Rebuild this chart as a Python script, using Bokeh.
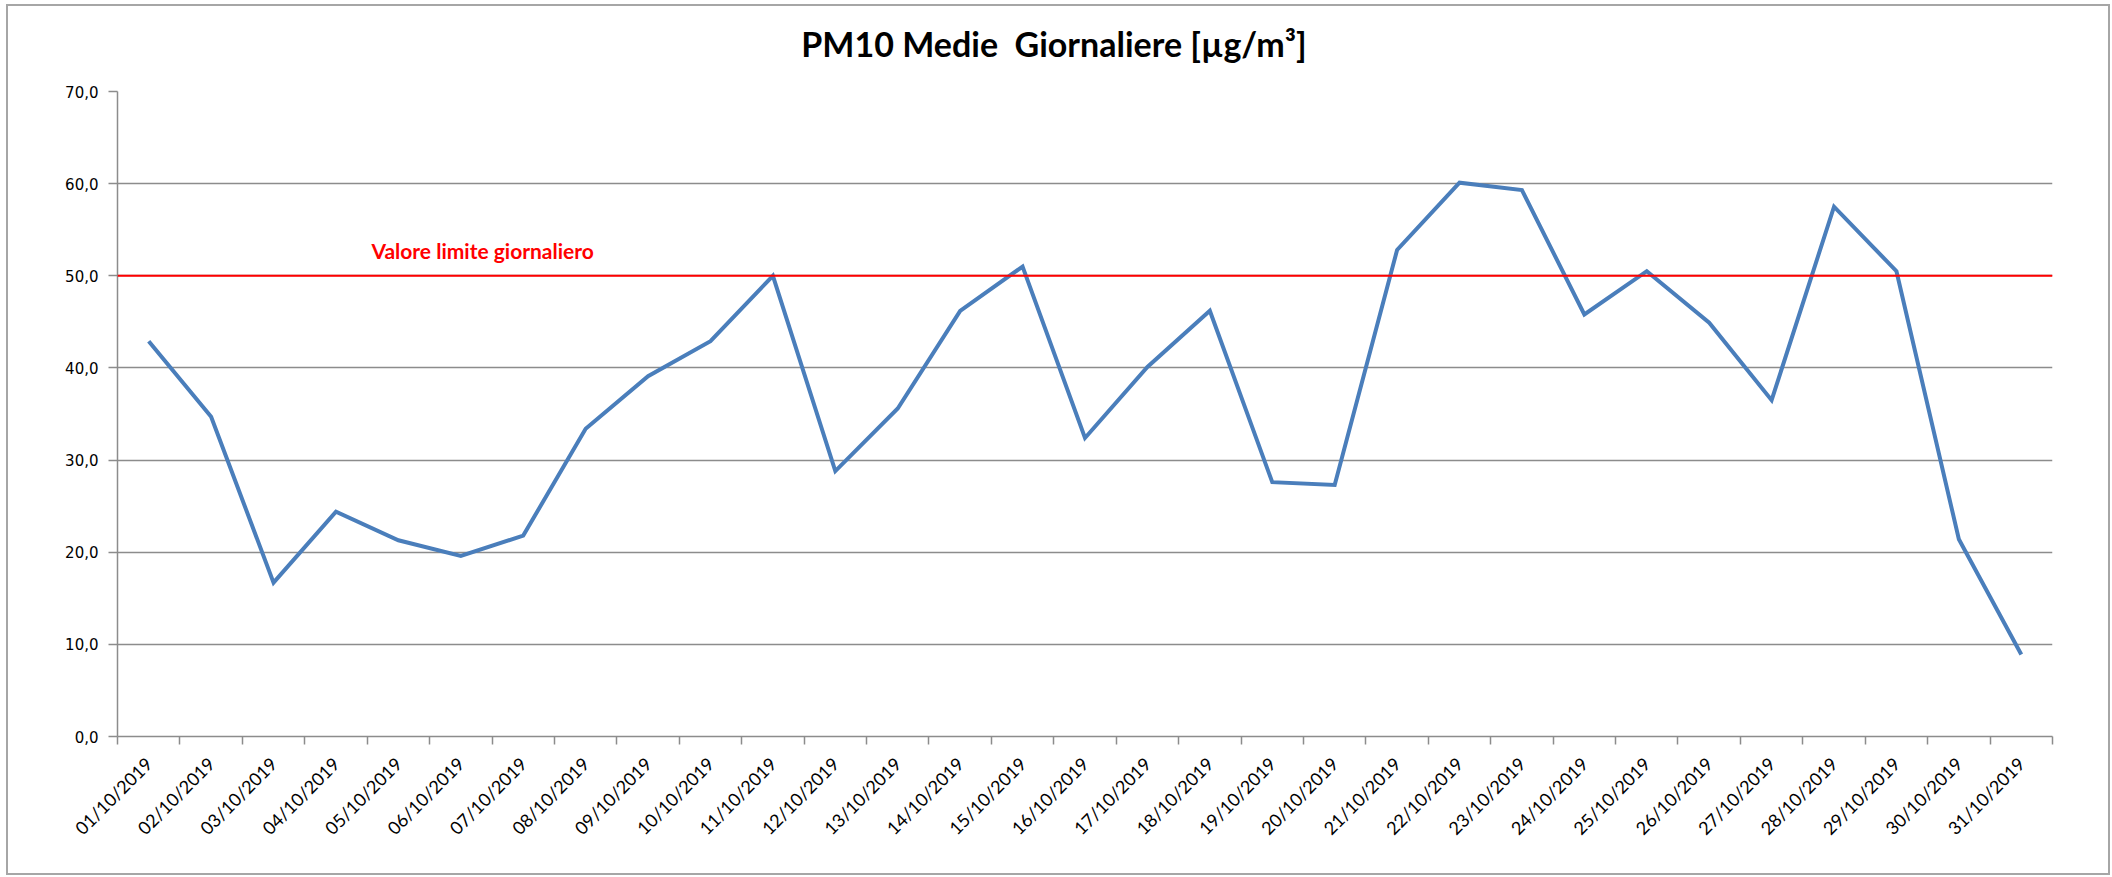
import math
from bokeh.plotting import figure
from bokeh.models import FixedTicker, Span, Label, Range1d, Div
from bokeh.layouts import column
from bokeh.embed import file_html
from bokeh.resources import INLINE

dates = ["01/10/2019", "02/10/2019", "03/10/2019", "04/10/2019", "05/10/2019",
         "06/10/2019", "07/10/2019", "08/10/2019", "09/10/2019", "10/10/2019",
         "11/10/2019", "12/10/2019", "13/10/2019", "14/10/2019", "15/10/2019",
         "16/10/2019", "17/10/2019", "18/10/2019", "19/10/2019", "20/10/2019",
         "21/10/2019", "22/10/2019", "23/10/2019", "24/10/2019", "25/10/2019",
         "26/10/2019", "27/10/2019", "28/10/2019", "29/10/2019", "30/10/2019",
         "31/10/2019"]
pm10 = [42.9, 34.7, 16.7, 24.4, 21.3, 19.6, 21.8, 33.4, 39.1, 42.9,
        50.0, 28.8, 35.6, 46.2, 51.0, 32.4, 40.1, 46.2, 27.6, 27.3,
        52.8, 60.1, 59.3, 45.8, 50.5, 44.9, 36.5, 57.5, 50.5, 21.4,
        8.9]
limit_value = 50.0
limit_label = "Valore limite giornaliero"
y_ticks = [0, 10, 20, 30, 40, 50, 60, 70]
y_tick_labels = ["0,0", "10,0", "20,0", "30,0", "40,0", "50,0", "60,0", "70,0"]
title_text = "PM10 Medie  Giornaliere [µg/m³]"

xs = list(range(1, len(dates) + 1))
n = len(dates)

title_div = Div(text=title_text, width=2100, height=60, margin=0,
                styles={"font-family": "Lato", "font-weight": "bold", "font-size": "34px",
                        "color": "#000000", "text-align": "center", "white-space": "pre",
                        "line-height": "40px", "padding-top": "18px",
                        "padding-right": "8px", "box-sizing": "border-box",
                        "background-color": "white"})

p = figure(width=2100, height=807, output_backend="svg", toolbar_location=None,
           frame_width=1935, frame_height=645,
           min_border_left=109, min_border_right=56, min_border_top=25, min_border_bottom=137,
           x_range=Range1d(0.5, n + 0.5), y_range=Range1d(y_ticks[0], y_ticks[-1]),
           margin=0)

p.outline_line_color = None
p.background_fill_color = "white"
p.border_fill_color = "white"

# grid
p.xgrid.grid_line_color = None
p.ygrid.grid_line_color = "#8c8c8c"
p.ygrid.grid_line_width = 1.5

# y axis
p.yaxis.ticker = FixedTicker(ticks=y_ticks, minor_ticks=[])
p.yaxis.major_label_overrides = {t: l for t, l in zip(y_ticks, y_tick_labels)}
p.yaxis.axis_line_color = "#8c8c8c"
p.yaxis.axis_line_width = 1.5
p.yaxis.major_tick_line_color = "#8c8c8c"
p.yaxis.major_tick_line_width = 1.5
p.yaxis.major_tick_out = 9
p.yaxis.major_tick_in = 0
p.yaxis.minor_tick_line_color = None
p.yaxis.major_label_text_font = "DejaVu Sans"
p.yaxis.major_label_text_font_size = "15px"
p.yaxis.major_label_text_color = "#000000"
p.yaxis.major_label_standoff = 10

# x axis
boundaries = [x - 0.5 for x in xs] + [xs[-1] + 0.5]
p.xaxis.ticker = FixedTicker(ticks=xs, minor_ticks=boundaries)
p.xaxis.major_label_overrides = {x: d for x, d in zip(xs, dates)}
p.xaxis.axis_line_color = "#8c8c8c"
p.xaxis.axis_line_width = 1.5
p.xaxis.major_tick_line_color = None
p.xaxis.major_tick_out = 0
p.xaxis.major_tick_in = 0
p.xaxis.minor_tick_line_color = "#8c8c8c"
p.xaxis.minor_tick_line_width = 1.5
p.xaxis.minor_tick_out = 8
p.xaxis.minor_tick_in = 0
p.xaxis.major_label_orientation = math.pi / 4
p.xaxis.major_label_text_font = "Lato"
p.xaxis.major_label_text_font_size = "18px"
p.xaxis.major_label_text_color = "#000000"
p.xaxis.major_label_standoff = 16

# limit line
p.add_layout(Span(location=limit_value, dimension="width", line_color="#ff0000", line_width=2))
p.add_layout(Label(x=6.35, y=52.7, text=limit_label, text_color="#ff0000",
                   text_font="Lato", text_font_style="bold", text_font_size="21px",
                   text_align="center", text_baseline="middle"))

# data line
p.line(xs, pm10, line_color="#4a7ebb", line_width=4, line_join="miter")

layout = column(title_div, p, spacing=0)
layout.styles = {"border": "2px solid #a6a6a6", "margin-left": "6px", "margin-top": "4px",
                 "background-color": "white"}

open("out.html", "w").write(file_html(layout, INLINE))
